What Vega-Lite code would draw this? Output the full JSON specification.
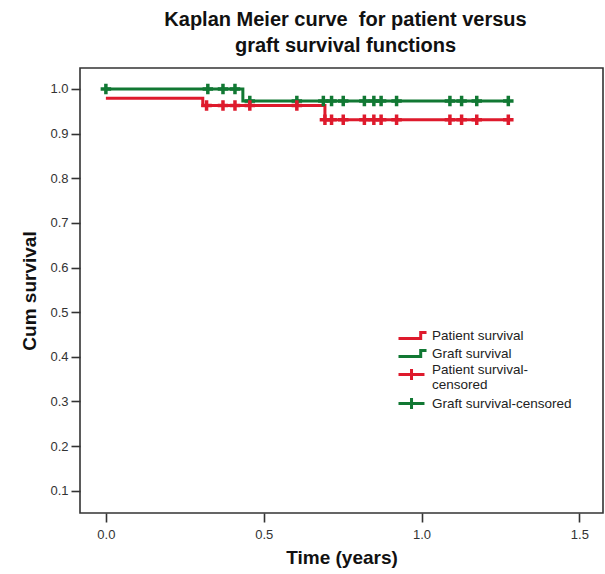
{
  "$schema": "https://vega.github.io/schema/vega-lite/v6.json",
  "autosize": {"type": "none"},
  "padding": {"left": 80, "top": 68, "right": 2, "bottom": 61},
  "width": 523,
  "height": 445,
  "background": "white",
  "title": {
    "text": ["Kaplan Meier curve \u00a0for patient versus", "graft survival functions"],
    "font": "Liberation Sans",
    "fontSize": 20,
    "fontWeight": "bold",
    "color": "#111111",
    "lineHeight": 26,
    "anchor": "middle",
    "dx": 4,
    "offset": 12
  },
  "config": {
    "view": {"stroke": "#333333", "strokeWidth": 1.6},
    "axis": {
      "domain": false,
      "grid": false,
      "tickColor": "#333333",
      "tickWidth": 1.6,
      "tickSize": 9,
      "labelFont": "Liberation Sans",
      "labelFontSize": 13,
      "labelColor": "#333333",
      "titleFont": "Liberation Sans",
      "titleFontSize": 19,
      "titleFontWeight": "bold",
      "titleColor": "#111111"
    }
  },
  "datasets": {
    "curves": [
      {"series": "Patient survival", "time": 0.0, "surv": 0.979},
      {"series": "Patient survival", "time": 0.307, "surv": 0.963},
      {"series": "Patient survival", "time": 0.694, "surv": 0.931},
      {"series": "Patient survival", "time": 1.275, "surv": 0.931},
      {"series": "Graft survival", "time": 0.0, "surv": 1.0},
      {"series": "Graft survival", "time": 0.434, "surv": 0.973},
      {"series": "Graft survival", "time": 1.275, "surv": 0.973}
    ],
    "censored": [
      {"series": "Graft survival-censored", "time": 0.0, "surv": 1.0},
      {"series": "Graft survival-censored", "time": 0.323, "surv": 1.0},
      {"series": "Graft survival-censored", "time": 0.371, "surv": 1.0},
      {"series": "Graft survival-censored", "time": 0.409, "surv": 1.0},
      {"series": "Graft survival-censored", "time": 0.456, "surv": 0.973},
      {"series": "Graft survival-censored", "time": 0.605, "surv": 0.973},
      {"series": "Graft survival-censored", "time": 0.689, "surv": 0.973},
      {"series": "Graft survival-censored", "time": 0.715, "surv": 0.973},
      {"series": "Graft survival-censored", "time": 0.752, "surv": 0.973},
      {"series": "Graft survival-censored", "time": 0.819, "surv": 0.973},
      {"series": "Graft survival-censored", "time": 0.849, "surv": 0.973},
      {"series": "Graft survival-censored", "time": 0.872, "surv": 0.973},
      {"series": "Graft survival-censored", "time": 0.921, "surv": 0.973},
      {"series": "Graft survival-censored", "time": 1.09, "surv": 0.973},
      {"series": "Graft survival-censored", "time": 1.127, "surv": 0.973},
      {"series": "Graft survival-censored", "time": 1.175, "surv": 0.973},
      {"series": "Graft survival-censored", "time": 1.275, "surv": 0.973},
      {"series": "Patient survival-censored", "time": 0.319, "surv": 0.963},
      {"series": "Patient survival-censored", "time": 0.371, "surv": 0.963},
      {"series": "Patient survival-censored", "time": 0.409, "surv": 0.963},
      {"series": "Patient survival-censored", "time": 0.456, "surv": 0.963},
      {"series": "Patient survival-censored", "time": 0.605, "surv": 0.963},
      {"series": "Patient survival-censored", "time": 0.694, "surv": 0.931},
      {"series": "Patient survival-censored", "time": 0.715, "surv": 0.931},
      {"series": "Patient survival-censored", "time": 0.752, "surv": 0.931},
      {"series": "Patient survival-censored", "time": 0.819, "surv": 0.931},
      {"series": "Patient survival-censored", "time": 0.849, "surv": 0.931},
      {"series": "Patient survival-censored", "time": 0.872, "surv": 0.931},
      {"series": "Patient survival-censored", "time": 0.921, "surv": 0.931},
      {"series": "Patient survival-censored", "time": 1.09, "surv": 0.931},
      {"series": "Patient survival-censored", "time": 1.127, "surv": 0.931},
      {"series": "Patient survival-censored", "time": 1.175, "surv": 0.931},
      {"series": "Patient survival-censored", "time": 1.275, "surv": 0.931}
    ]
  },
  "encoding": {
    "x": {
      "field": "time",
      "type": "quantitative",
      "scale": {"domain": [-0.082, 1.575], "nice": false, "zero": false},
      "axis": {"values": [0, 0.5, 1, 1.5], "format": ".1f", "title": "Time (years)", "labelPadding": 6, "titlePadding": 7}
    },
    "y": {
      "field": "surv",
      "type": "quantitative",
      "scale": {"domain": [0.05, 1.047], "nice": false, "zero": false},
      "axis": {"values": [0.1, 0.2, 0.3, 0.4, 0.5, 0.6, 0.7, 0.8, 0.9, 1.0], "format": ".1f", "title": "Cum survival", "labelPadding": 3, "titlePadding": 10}
    },
    "color": {
      "field": "series",
      "type": "nominal",
      "scale": {
        "domain": ["Patient survival", "Graft survival", "Patient survival-censored", "Graft survival-censored"],
        "range": ["#de1a2c", "#117833", "#de1a2c", "#117833"]
      },
      "legend": {
        "title": null,
        "orient": "none",
        "legendX": 317,
        "legendY": 260,
        "symbolSize": 144,
        "symbolStrokeWidth": 3,
        "labelOffset": 20,
        "labelFont": "Liberation Sans",
        "labelFontSize": 13.5,
        "labelColor": "#222222",
        "rowPadding": -1,
        "labelExpr": "datum.label == 'Patient survival-censored' ? ['Patient survival-', 'censored'] : datum.label",
        "encode": {
          "symbols": {
            "update": {
              "shape": {"signal": "indexof(datum.value, 'censored') >= 0 ? 'M-1,0H3.33M1.17,-0.92V0.92' : 'M-1,0.5H2.7V-0.5H3.67'"},
              "fill": {"value": "transparent"},
              "stroke": {"scale": "color", "field": "value"},
              "strokeWidth": {"value": 3},
              "opacity": {"value": 1}
            }
          },
          "labels": {
            "update": {
              "lineHeight": {"value": 15.5},
              "dy": {"signal": "datum.value == 'Patient survival-censored' ? -5 : 0"}
            }
          }
        }
      }
    }
  },
  "layer": [
    {
      "data": {"name": "curves"},
      "mark": {"type": "line", "interpolate": "step-after", "strokeWidth": 3}
    },
    {
      "data": {"name": "censored"},
      "mark": {"type": "point", "shape": "M-1,0H1M0,-1V1", "size": 110, "filled": false, "strokeWidth": 3.5, "opacity": 1}
    }
  ]
}
